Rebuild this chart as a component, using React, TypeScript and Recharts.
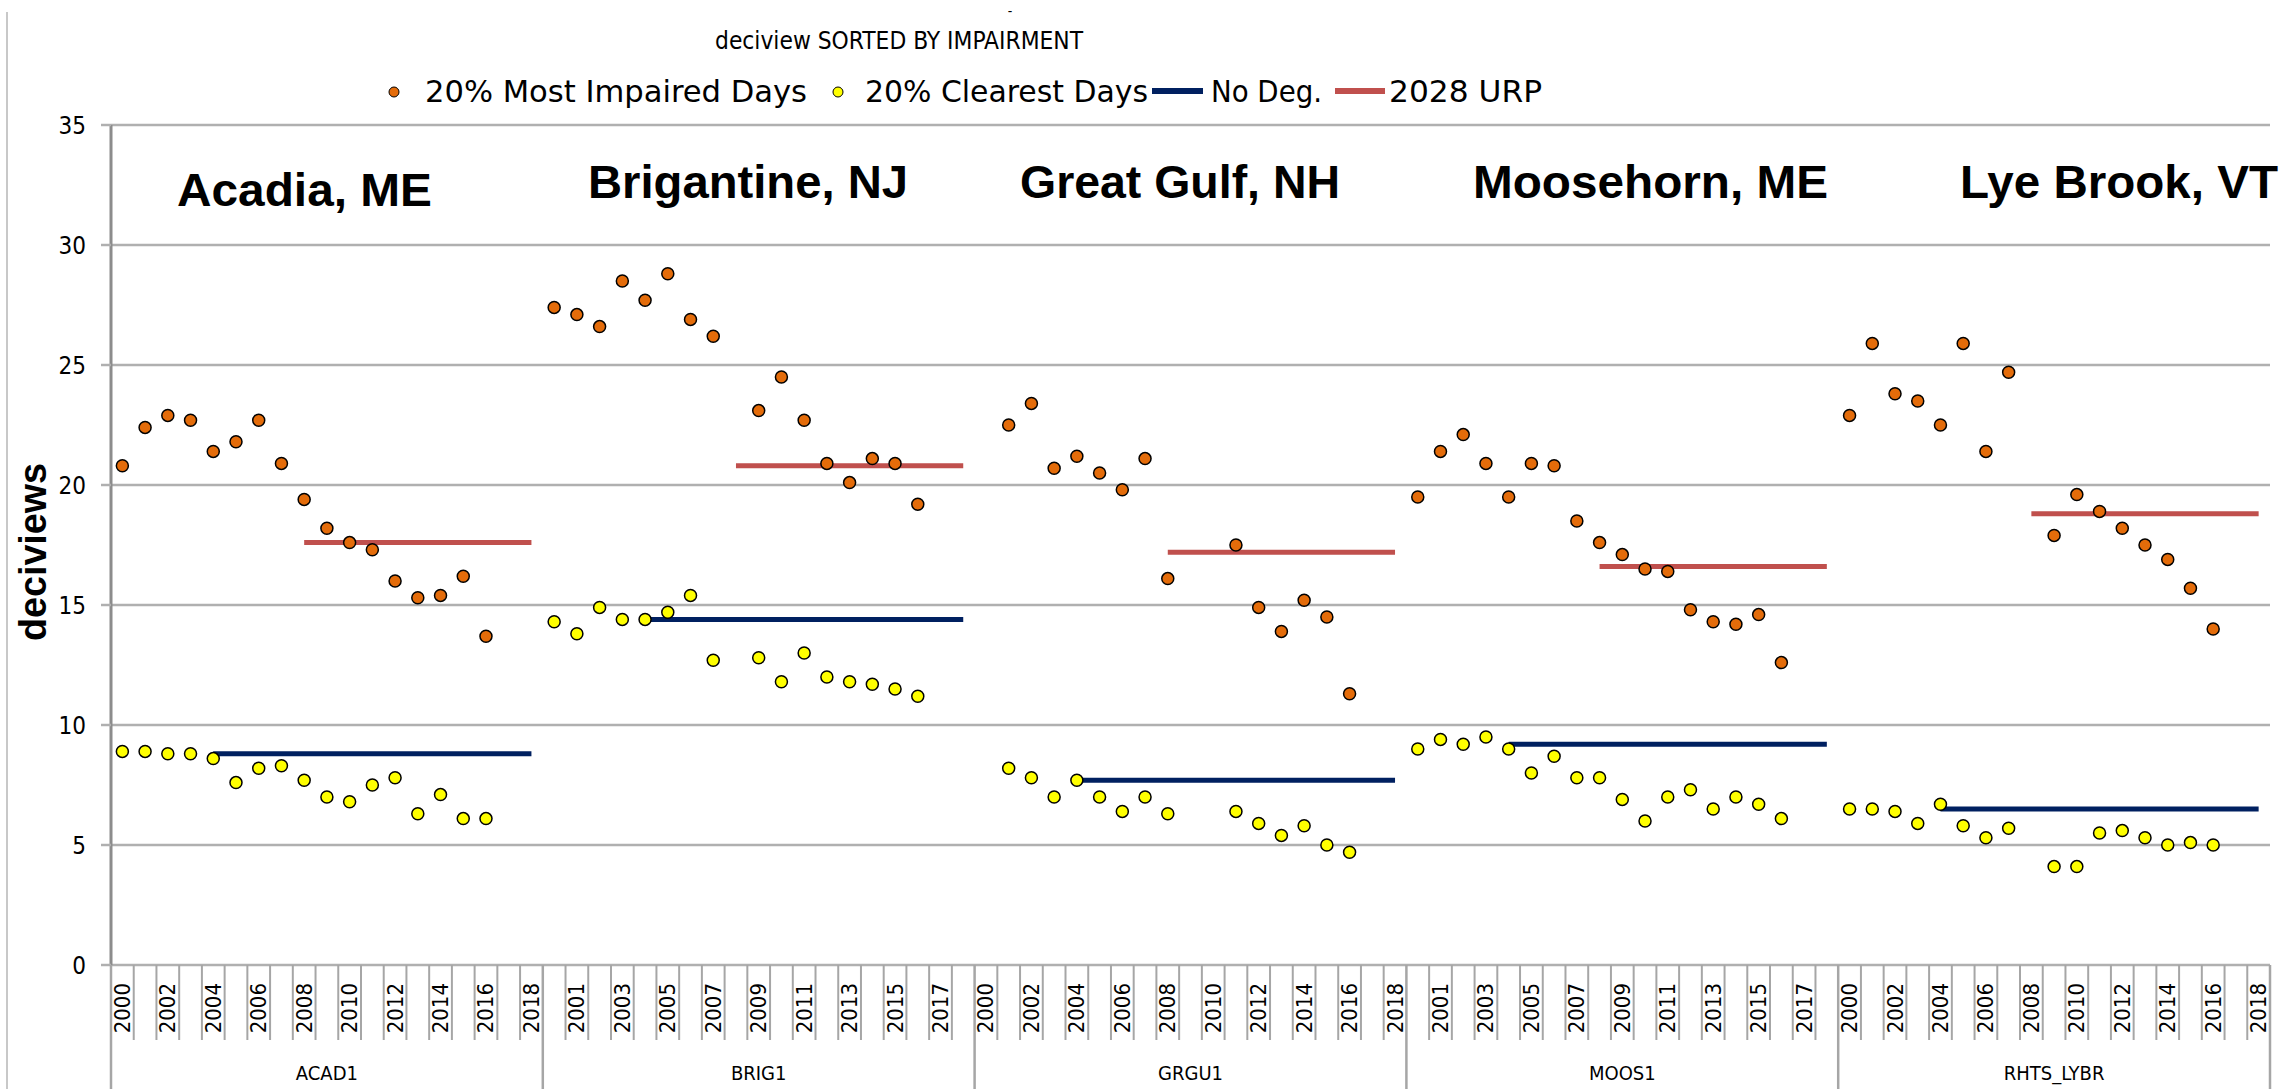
import React from 'react';
import { ComposedChart, Line, XAxis, YAxis, CartesianGrid } from 'recharts';

const YEARS = [2000, 2001, 2002, 2003, 2004, 2005, 2006, 2007, 2008, 2009, 2010, 2011, 2012, 2013, 2014, 2015, 2016, 2017, 2018];
const SITES = ['ACAD1', 'BRIG1', 'GRGU1', 'MOOS1', 'RHTS_LYBR'];
const SITE_TITLES = ['Acadia, ME', 'Brigantine, NJ', 'Great Gulf, NH', 'Moosehorn, ME', 'Lye Brook, VT'];
const Y_TICKS = [0, 5, 10, 15, 20, 25, 30, 35];

// 20% most impaired days, one list per site (2000..2018)
const MOST_ACAD1 = [20.8, 22.4, 22.9, 22.7, 21.4, 21.8, 22.7, 20.9, 19.4, 18.2, 17.6, 17.3, 16.0, 15.3, 15.4, 16.2, 13.7, null, null];
const MOST_BRIG1 = [27.4, 27.1, 26.6, 28.5, 27.7, 28.8, 26.9, 26.2, null, 23.1, 24.5, 22.7, 20.9, 20.1, 21.1, 20.9, 19.2, null, null];
const MOST_GRGU1 = [null, 22.5, 23.4, 20.7, 21.2, 20.5, 19.8, 21.1, 16.1, null, null, 17.5, 14.9, 13.9, 15.2, 14.5, 11.3, null, null];
const MOST_MOOS1 = [19.5, 21.4, 22.1, 20.9, 19.5, 20.9, 20.8, 18.5, 17.6, 17.1, 16.5, 16.4, 14.8, 14.3, 14.2, 14.6, 12.6, null, null];
const MOST_LYBR = [22.9, 25.9, 23.8, 23.5, 22.5, 25.9, 21.4, 24.7, null, 17.9, 19.6, 18.9, 18.2, 17.5, 16.9, 15.7, 14.0, null, null];

// 20% clearest days
const CLEAR_ACAD1 = [8.9, 8.9, 8.8, 8.8, 8.6, 7.6, 8.2, 8.3, 7.7, 7.0, 6.8, 7.5, 7.8, 6.3, 7.1, 6.1, 6.1, null, null];
const CLEAR_BRIG1 = [14.3, 13.8, 14.9, 14.4, 14.4, 14.7, 15.4, 12.7, null, 12.8, 11.8, 13.0, 12.0, 11.8, 11.7, 11.5, 11.2, null, null];
const CLEAR_GRGU1 = [null, 8.2, 7.8, 7.0, 7.7, 7.0, 6.4, 7.0, 6.3, null, null, 6.4, 5.9, 5.4, 5.8, 5.0, 4.7, null, null];
const CLEAR_MOOS1 = [9.0, 9.4, 9.2, 9.5, 9.0, 8.0, 8.7, 7.8, 7.8, 6.9, 6.0, 7.0, 7.3, 6.5, 7.0, 6.7, 6.1, null, null];
const CLEAR_LYBR = [6.5, 6.5, 6.4, 5.9, 6.7, 5.8, 5.3, 5.7, null, 4.1, 4.1, 5.5, 5.6, 5.3, 5.0, 5.1, 5.0, null, null];

const NO_DEG = [8.8, 14.4, 7.7, 9.2, 6.5];
const URP_2028 = [17.6, 20.8, 17.2, 16.6, 18.8];
const NO_DEG_FROM = 2004;
const URP_FROM = 2008;

const MOST = [MOST_ACAD1, MOST_BRIG1, MOST_GRGU1, MOST_MOOS1, MOST_LYBR];
const CLEAR = [CLEAR_ACAD1, CLEAR_BRIG1, CLEAR_GRGU1, CLEAR_MOOS1, CLEAR_LYBR];

const data = SITES.flatMap((site, s) =>
    YEARS.map((year, k) => ({
        key: `${site}-${year}`,
        site,
        year,
        most: MOST[s][k],
        clear: CLEAR[s][k],
        noDeg: year >= NO_DEG_FROM ? NO_DEG[s] : null,
        urp: year >= URP_FROM ? URP_2028[s] : null,
    }))
);

const W = 2285;
const H = 1089;
const Y_AXIS_W = 111;
const RIGHT = 15;
const CAT_W = (W - Y_AXIS_W - RIGHT) / data.length;
const COND = "'DejaVu Sans Condensed', 'Liberation Sans Narrow', 'DejaVu Sans', sans-serif";
const BOLD = "'Liberation Sans', Arial, sans-serif";

const YearTick = (props: any) => {
    const { x, y, index } = props;
    const row = data[index];
    if (!row) return null;
    const k = index % YEARS.length;
    const left = x - CAT_W / 2;
    return (
        <g>
            {k === 0 ? (
                <line x1={left} x2={left} y1={y} y2={H} stroke="#a6a6a6" strokeWidth={2.5} />
            ) : (
                <line x1={left} x2={left} y1={y} y2={y + 75} stroke="#a6a6a6" strokeWidth={2} />
            )}
            {index === data.length - 1 && (
                <line x1={x + CAT_W / 2} x2={x + CAT_W / 2} y1={y} y2={H} stroke="#a6a6a6" strokeWidth={2.5} />
            )}
            {index % 2 === 0 && (
                <text
                    transform={`translate(${x},${y + 18}) rotate(-90)`}
                    textAnchor="end"
                    dominantBaseline="central"
                    fontFamily={COND}
                    fontSize={22}
                    fill="#000"
                >
                    {row.year}
                </text>
            )}
            {k === 9 && (
                <text x={x} y={y + 115} textAnchor="middle" fontFamily={COND} fontSize={20} fill="#000">
                    {row.site}
                </text>
            )}
        </g>
    );
};

const TITLE_POS = [
    { x: 177, y: 206, w: 255 },
    { x: 588, y: 198, w: 320 },
    { x: 1020, y: 198, w: 320 },
    { x: 1473, y: 198, w: 355 },
    { x: 1960, y: 198, w: 318 },
];

const Overlay = () => (
    <svg width={W} height={H} style={{ position: 'absolute', left: 0, top: 0, pointerEvents: 'none' }}>
        <line x1={7} x2={7} y1={12} y2={H} stroke="#c8c8c8" strokeWidth={2} />
        <text x={1010} y={16} fontSize={14} fontFamily={COND} textAnchor="middle">-</text>
        <text x={715} y={49} fontSize={24} fontFamily={COND} textLength={368} lengthAdjust="spacingAndGlyphs">
            deciview SORTED BY IMPAIRMENT
        </text>

        <circle cx={394} cy={92} r={5} fill="#E46C0A" stroke="#000" strokeWidth={1} />
        <text x={425} y={102} fontSize={31} fontFamily={COND} textLength={382} lengthAdjust="spacingAndGlyphs">
            20% Most Impaired Days
        </text>
        <circle cx={838} cy={92} r={5} fill="#FFFF00" stroke="#000" strokeWidth={1} />
        <text x={865} y={102} fontSize={31} fontFamily={COND} textLength={283} lengthAdjust="spacingAndGlyphs">
            20% Clearest Days
        </text>
        <line x1={1152} x2={1203} y1={91} y2={91} stroke="#002060" strokeWidth={6} />
        <text x={1211} y={102} fontSize={31} fontFamily={COND} textLength={111} lengthAdjust="spacingAndGlyphs">
            No Deg.
        </text>
        <line x1={1335} x2={1385} y1={91} y2={91} stroke="#C0504D" strokeWidth={6} />
        <text x={1389} y={102} fontSize={31} fontFamily={COND} textLength={153} lengthAdjust="spacingAndGlyphs">
            2028 URP
        </text>

        <text
            transform="translate(46,552) rotate(-90)"
            textAnchor="middle"
            fontSize={38}
            fontWeight="bold"
            fontFamily={BOLD}
            textLength={178}
            lengthAdjust="spacingAndGlyphs"
        >
            deciviews
        </text>

        {SITE_TITLES.map((t, i) => (
            <text
                key={t}
                x={TITLE_POS[i].x}
                y={TITLE_POS[i].y}
                fontSize={46}
                fontWeight="bold"
                fontFamily={BOLD}
                textLength={TITLE_POS[i].w}
                lengthAdjust="spacingAndGlyphs"
            >
                {t}
            </text>
        ))}
    </svg>
);

export default function App() {
    return (
        <div style={{ position: 'absolute', left: 0, top: 0, width: W, height: H, background: '#fff' }}>
            <ComposedChart width={W} height={H} data={data} margin={{ top: 125, right: RIGHT, bottom: 0, left: 0 }}>
                <CartesianGrid vertical={false} stroke="#b0b0b0" strokeWidth={2.5} />
                <XAxis
                    dataKey="key"
                    scale="band"
                    interval={0}
                    height={124}
                    tickLine={false}
                    axisLine={false}
                    tickSize={0}
                    tickMargin={0}
                    tick={<YearTick />}
                />
                <YAxis
                    domain={[0, 35]}
                    ticks={Y_TICKS}
                    width={Y_AXIS_W}
                    tickSize={10}
                    tickMargin={15}
                    axisLine={{ stroke: '#8c8c8c', strokeWidth: 3 }}
                    tickLine={{ stroke: '#b0b0b0', strokeWidth: 2.5 }}
                    tick={{ fill: '#000', fontSize: 24, fontFamily: COND }}
                />
                <Line dataKey="noDeg" stroke="#002060" strokeWidth={5} dot={false} activeDot={false} isAnimationActive={false} />
                <Line dataKey="urp" stroke="#C0504D" strokeWidth={5} dot={false} activeDot={false} isAnimationActive={false} />
                <Line
                    dataKey="most"
                    stroke="none"
                    dot={{ r: 6, fill: '#E46C0A', stroke: '#000', strokeWidth: 1.5 }}
                    activeDot={false}
                    isAnimationActive={false}
                />
                <Line
                    dataKey="clear"
                    stroke="none"
                    dot={{ r: 6, fill: '#FFFF00', stroke: '#000', strokeWidth: 1.5 }}
                    activeDot={false}
                    isAnimationActive={false}
                />
            </ComposedChart>
            <Overlay />
        </div>
    );
}
